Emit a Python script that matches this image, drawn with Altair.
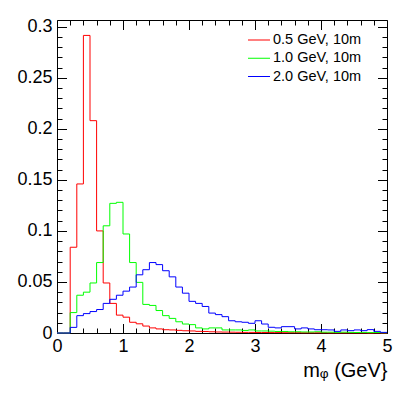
import altair as alt
import pandas as pd

# ---- data (normalised histograms, 50 bins of 0.1 GeV) ----
BIN_LOW = 0.0
BIN_WIDTH = 0.1
N_BINS = 50

SERIES = ["0.5 GeV, 10m", "1.0 GeV, 10m", "2.0 GeV, 10m"]
COLORS = ["#ff0000", "#00ff00", "#0000ff"]

red = [0, 0, 0.084, 0.146, 0.2915, 0.208, 0.100, 0.049, 0.029, 0.0175,
       0.0155, 0.0105, 0.009, 0.0068, 0.005, 0.004, 0.0032, 0.003, 0.0026, 0.0022,
       0.002, 0.0016, 0.0015, 0.0012, 0.001, 0.0009, 0.0008, 0.0007, 0.0006, 0.0006,
       0.0005, 0.0005, 0.0004, 0.0004, 0.0003, 0.0003, 0.0003, 0.0002, 0.0002, 0.0002,
       0.0002, 0.0001, 0.0001, 0.0001, 0.0001, 0.0001, 0.0001, 0, 0.0001, 0]

green = [0, 0, 0.020, 0.037, 0.040, 0.049, 0.069, 0.105, 0.127, 0.128,
         0.097, 0.069, 0.0496, 0.028, 0.027, 0.022, 0.017, 0.0143, 0.011, 0.0088,
         0.0082, 0.005, 0.004, 0.005, 0.005, 0.003, 0.003, 0.003, 0.0025, 0.003,
         0.002, 0.002, 0.0018, 0.0015, 0.0015, 0.0012, 0.0012, 0.001, 0.001, 0.0012,
         0.0008, 0.0008, 0.0006, 0.0008, 0.0006, 0.0005, 0.0006, 0.0004, 0.0005, 0.0003]

blue = [0, 0, 0.0055, 0.017, 0.019, 0.021, 0.023, 0.029, 0.033, 0.037,
        0.041, 0.045, 0.057, 0.062, 0.069, 0.067, 0.061, 0.055, 0.045, 0.039,
        0.031, 0.029, 0.026, 0.0195, 0.018, 0.016, 0.012, 0.011, 0.0105, 0.0095,
        0.012, 0.0088, 0.0056, 0.005, 0.0062, 0.0062, 0.004, 0.005, 0.004, 0.0032,
        0.0032, 0.003, 0.0016, 0.003, 0.0023, 0.003, 0.0023, 0.0033, 0.0016, 0.0006]

X_LABELS = [0, 1, 2, 3, 4, 5]
X_MINOR = [0.2, 0.4, 0.6, 0.8, 1.2, 1.4, 1.6, 1.8, 2.2, 2.4, 2.6, 2.8,
           3.2, 3.4, 3.6, 3.8, 4.2, 4.4, 4.6, 4.8]
Y_LABELS = [0, 0.05, 0.1, 0.15, 0.2, 0.25, 0.3]
Y_MINOR = [0.01, 0.02, 0.03, 0.04, 0.06, 0.07, 0.08, 0.09, 0.11, 0.12, 0.13, 0.14,
           0.16, 0.17, 0.18, 0.19, 0.21, 0.22, 0.23, 0.24, 0.26, 0.27, 0.28, 0.29]
X_DOMAIN = [0, 5]
Y_DOMAIN = [0, 0.3066]
X_TITLE = "m\u1d69 (GeV}"

# ---- build long table: step outline at bin edges ----
rows = []
for name, vals in zip(SERIES, [red, green, blue]):
    for i in range(N_BINS + 1):
        v = vals[min(i, N_BINS - 1)]
        rows.append({"x": round(BIN_LOW + i * BIN_WIDTH, 3), "value": v, "series": name})
df = pd.DataFrame(rows)
legend_df = pd.DataFrame({"series": SERIES})

W, H = 330, 313
FONT = "Liberation Sans"
xs = alt.Scale(domain=X_DOMAIN, nice=False, zero=False)
ys = alt.Scale(domain=Y_DOMAIN, nice=False, zero=False)
cs = alt.Scale(domain=SERIES, range=COLORS)

base = alt.Chart(df)

main = base.mark_line(interpolate="step-after", strokeWidth=1).encode(
    x=alt.X("x:Q", scale=xs, axis=alt.Axis(
        values=X_LABELS, format="~g", ticks=False, domain=False, grid=False,
        labelFlush=False, labelOverlap=False, labelFontSize=18, labelFont=FONT,
        labelColor="black", labelPadding=4,
        title=X_TITLE, titleFont=FONT, titleFontSize=20, titleFontWeight="normal",
        titleColor="black", titleAnchor="end", titleAlign="right",
        titleBaseline="alphabetic", titleX=W, titleY=43)),
    y=alt.Y("value:Q", scale=ys, axis=alt.Axis(
        values=Y_LABELS, format="~g", ticks=False, domain=False, grid=False,
        labelFlush=False, labelOverlap=False, labelFontSize=18, labelFont=FONT,
        labelColor="black", labelPadding=5), title=None),
    color=alt.Color("series:N", scale=cs, legend=None),
    order=alt.Order("x:Q"),
)


def tick_layer(x_orient, y_orient, xv, yv, size):
    return base.mark_point(opacity=0, size=1).encode(
        x=alt.X("x:Q", scale=xs, title=None, axis=alt.Axis(
            orient=x_orient, offset=-H, values=xv, labels=False, domain=False,
            grid=False, ticks=True, tickSize=size, tickColor="black", tickWidth=1)),
        y=alt.Y("value:Q", scale=ys, title=None, axis=alt.Axis(
            orient=y_orient, offset=-W, values=yv, labels=False, domain=False,
            grid=False, ticks=True, tickSize=size, tickColor="black", tickWidth=1)),
    )


# legend drawn as a small layer: one row per series
leg_y = alt.Y("series:N", scale=alt.Scale(type="point", domain=SERIES, range=[20, 56.5],
                                         padding=0), axis=None, title=None)
leg_lines = alt.Chart(legend_df).mark_rule(strokeWidth=1).encode(
    x=alt.value(191), x2=alt.value(213), y=leg_y,
    color=alt.Color("series:N", scale=cs, legend=None),
)
leg_text = alt.Chart(legend_df).mark_text(
    align="left", baseline="middle", fontSize=14.5, font=FONT, color="black"
).encode(x=alt.value(216), y=leg_y, text="series:N")

layers = [
    tick_layer("top", "right", X_LABELS, Y_LABELS, 9.5),
    tick_layer("top", "right", X_MINOR, Y_MINOR, 5),
    tick_layer("bottom", "left", X_LABELS, Y_LABELS, 9.5),
    tick_layer("bottom", "left", X_MINOR, Y_MINOR, 5),
    main,
    leg_lines,
    leg_text,
]

chart = alt.layer(*layers).resolve_axis(x="independent", y="independent").resolve_scale(
    y="independent"
).properties(
    width=W, height=H,
    autosize=alt.AutoSizeParams(type="none"),
    padding={"left": 49, "top": 12, "right": 12, "bottom": 51},
).configure(font=FONT).configure_view(stroke="black", strokeWidth=1)

chart.save("out.html", embed_options={"renderer": "svg", "actions": False})
